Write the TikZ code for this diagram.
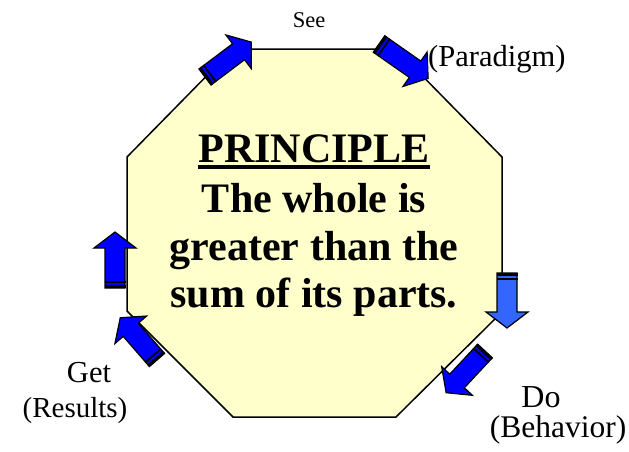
\documentclass[tikz,border=0pt]{standalone}
\usepackage{fontspec}
\setmainfont{Liberation Serif}
\definecolor{octfill}{HTML}{FFFFCC}
\definecolor{arrblue}{HTML}{0000FF}
\definecolor{arrlight}{HTML}{3366FF}
\newcommand\stripedarrow[4]{%
 \begin{scope}[shift={#1},rotate=#2]
  \filldraw[fill=#3,draw=black,line width=1.2pt,line join=miter]
    (0,-10) -- (#4-16,-10) -- (#4-16,-21) -- (#4,0) -- (#4-16,21) -- (#4-16,10) -- (0,10) -- cycle;
  \fill[black] (0,-10.5) rectangle (2.8,10.5);
  \fill[black] (5,-10.5) rectangle (6.8,10.5);
 \end{scope}}
\tikzset{
  bigtext/.style={font=\bfseries\fontsize{42}{48}\selectfont, inner sep=0pt, anchor=base},
  lbl/.style={font=\fontsize{30.5}{34}\selectfont, inner sep=0pt, anchor=base},
}
\begin{document}
\begin{tikzpicture}[x=1pt,y=-1pt]
\useasboundingbox (0,0) rectangle (629,451);
% octagon
\filldraw[fill=octfill,draw=black,line width=1.5pt,line join=miter]
  (233,49) -- (396,49) -- (502,157) -- (502,312) -- (396,417) -- (233,417) -- (127,311) -- (127,157) -- cycle;
% main text
\node[bigtext] (l1) at (314,162) {PRINCIPLE};
\draw[line width=3.5pt] ([yshift=-5pt]l1.base west) -- ([yshift=-5pt]l1.base east);
\node[bigtext] (l2) at (314,212) {The whole is};
\node[bigtext] (l3) at (314,260) {greater than the};
\node[bigtext] (l4) at (314,307) {sum of its parts.};
% arrows
\stripedarrow{(205,77)}{37}{arrblue}{58}
\stripedarrow{(379,44)}{-35}{arrblue}{60}
\stripedarrow{(507,273)}{-90}{arrlight}{55}
\stripedarrow{(485,351)}{227}{arrblue}{57}
\stripedarrow{(157,360)}{131}{arrblue}{56}
\stripedarrow{(115,288)}{90}{arrblue}{56}
% labels
\node[lbl, font=\fontsize{22.5}{26}\selectfont] (see) at (309,27) {See};
\node[lbl, anchor=base west] (paradigm) at (428,66) {(Paradigm)};
\node[lbl] (get) at (89,382) {Get};
\node[lbl, font=\fontsize{29}{33}\selectfont] (results) at (75,417) {(Results)};
\node[lbl, font=\fontsize{32}{36}\selectfont] (do) at (541,407) {Do};
\node[lbl, font=\fontsize{31.5}{35}\selectfont] (behavior) at (558,437) {(Behavior)};
\end{tikzpicture}
\end{document}
